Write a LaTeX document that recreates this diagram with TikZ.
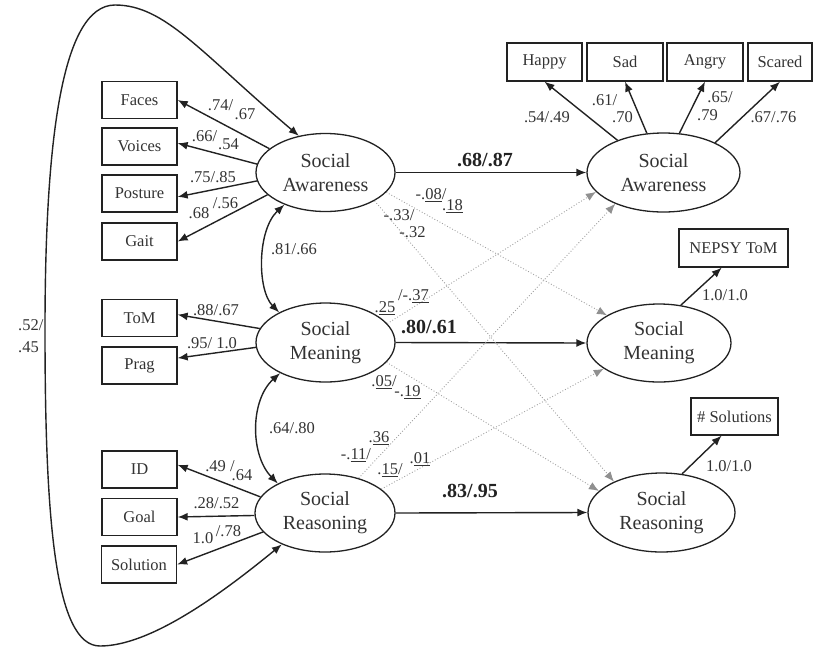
\documentclass[tikz,border=0pt]{standalone}
\usepackage{fontspec}
\setmainfont{Liberation Serif}
\usetikzlibrary{arrows.meta,shapes.geometric,calc}
\definecolor{ink}{HTML}{222222}
\definecolor{txt}{HTML}{333333}
\definecolor{dotc}{HTML}{A0A0A0}
\definecolor{dottip}{HTML}{909090}
\begin{document}
\begin{tikzpicture}[x=1pt,y=-1pt,
  box/.style={draw=ink, line width=1.3pt, minimum width=75pt, minimum height=37pt, inner sep=0pt, font=\fontsize{16.5}{18}\selectfont, text=txt},
  lat/.style={draw=ink, ellipse, line width=1.3pt, inner sep=0pt, align=center, font=\fontsize{20}{24}\selectfont, text=txt},
  lbl/.style={font=\fontsize{16.5}{18}\selectfont, text=txt, inner sep=0pt},
  blbl/.style={font=\bfseries\fontsize{20}{22}\selectfont, text=ink, inner sep=0pt},
  arr/.style={draw=ink, line width=1.4pt, -{Latex[length=10pt,width=8pt]}},
  darr/.style={draw=ink, line width=1.4pt, {Latex[length=10pt,width=8pt]}-{Latex[length=10pt,width=8pt]}},
  dotarr/.style={draw=dotc, line width=0.9pt, dotted, -{Latex[length=10pt,width=8pt,fill=dottip,color=dottip]}}
]
\useasboundingbox (0,0) rectangle (814,649);
% left indicator boxes
\node[box] (Faces) at (139.5,100) {Faces};
\node[box] (Voices) at (139.5,146.5) {Voices};
\node[box] (Posture) at (139.5,193.5) {Posture};
\node[box] (Gait) at (139.5,241.5) {Gait};
\node[box] (ToM) at (139.5,318) {ToM};
\node[box] (Prag) at (139.5,365.5) {Prag};
\node[box] (ID) at (139.5,469.5) {ID};
\node[box] (Goal) at (139.5,517) {Goal};
\node[box] (Solution) at (139,564.5) {Solution};
% top right boxes
\node[box, minimum height=38pt] (Happy) at (544.5,62) {Happy};
\node[box, minimum height=38pt, minimum width=76pt] (Sad) at (625,62) {Sad};
\node[box, minimum height=38pt, minimum width=76pt] (Angry) at (705,62) {Angry};
\node[box, minimum height=38pt, minimum width=64pt] (Scared) at (780,62) {Scared};
\node[box, minimum height=38pt, minimum width=109pt] (NEPSY) at (733.5,248) {NEPSY ToM};
\node[box, minimum width=87pt] (Sols) at (734.5,416.5) {\# Solutions};
% latent ellipses
\node[lat, minimum width=139pt, minimum height=78pt] (SAL) at (325.5,172.5) {Social\\Awareness};
\node[lat, minimum width=139pt, minimum height=79pt] (SML) at (325.5,342.5) {Social\\Meaning};
\node[lat, minimum width=140pt, minimum height=78pt] (SRL) at (325,513) {Social\\Reasoning};
\node[lat, minimum width=153pt, minimum height=79pt] (SAR) at (663.5,172.5) {Social\\Awareness};
\node[lat, minimum width=144pt, minimum height=78pt] (SMR) at (659,343) {Social\\Meaning};
\node[lat, minimum width=147pt, minimum height=79pt] (SRR) at (661.5,512.5) {Social\\Reasoning};

% big covariance loop
\path[darr] (SAL.126) .. controls (200,52) and (165,5) .. (115,5)
  .. controls (60,5) and (45,150) .. (45,330)
  .. controls (45,520) and (55,646) .. (100,646)
  .. controls (150,646) and (220,595) .. (SRL.216);
\node[lbl, anchor=west] (l52) at (18,325) {.52/};
\node[lbl, anchor=west] (l45) at (18,347) {.45};

% correlations between left latents
\path[darr] (SAL.218) .. controls (257,230) and (257,290) .. (SML.147);
\path[darr] (SML.214) .. controls (250,400) and (250,455) .. (SRL.148);
\node[lbl] (c1) at (294,249) {.81/.66};
\node[lbl] (c2) at (292,428) {.64/.80};

% loadings left
\path[arr] (SAL.157) -- (Faces.east);
\path[arr] (SAL.173) -- (Voices.5);
\path[arr] (SAL.187) -- (Posture.-5);
\path[arr] (SAL.201) -- (Gait.east);
\path[arr] (SML.168) -- (ToM.5);
\path[arr] (SML.184) -- (Prag.11);
\path[arr] (SRL.166) -- (ID.7);
\path[arr] (SRL.182) -- (Goal.east);
\path[arr] (SRL.197) -- (Solution.east);

\node[lbl] (a1) at (220.5,105) {.74/};
\node[lbl] (a2) at (245,114) {.67};
\node[lbl] (a3) at (204.5,136) {.66/};
\node[lbl] (a4) at (228.5,144) {.54};
\node[lbl] (a5) at (213,177) {.75/.85};
\node[lbl] (a6) at (199,213) {.68};
\node[lbl] (a7) at (225.5,203) {/.56};
\node[lbl] (m1) at (216,310) {.88/.67};
\node[lbl] (m2) at (212,343) {.95/ 1.0};
\node[lbl] (r1) at (220,466) {.49 /};
\node[lbl] (r2) at (242,475) {.64};
\node[lbl] (r3) at (216.5,503) {.28/.52};
\node[lbl] (r4) at (203,538) {1.0};
\node[lbl] (r5) at (228.5,531) {/.78};

% main structural paths
\path[arr] (SAL.east) -- (SAR.west);
\path[arr] (SML.east) -- (SMR.west);
\path[arr] (SRL.east) -- (SRR.west);
\node[blbl] (b1) at (485,160) {.68/.87};
\node[blbl] (b2) at (429,327) {.80/.61};
\node[blbl] (b3) at (470,491) {.83/.95};

% cross-lagged dotted paths
\path[dotarr] (SAL.-18) -- (SMR.152);
\path[dotarr] (SAL.-30) -- (SRR.147);
\path[dotarr] (SML.17) -- (SAR.196);
\path[dotarr] (SRL.46) -- (SAR.213);
\path[dotarr] (SML.-18) -- (SRR.161);
\path[dotarr] (SRL.23) -- (SMR.205);

\node[lbl] (d1) at (431,195) {-.\underline{08}/};
\node[lbl] (d2) at (452.5,206) {.\underline{18}};
\node[lbl] (d3) at (399,215) {-.33/};
\node[lbl] (d4) at (412.5,232) {-.32};
\node[lbl] (d5) at (385,308) {.\underline{25}};
\node[lbl] (d6) at (413.5,296) {/-.\underline{37}};
\node[lbl] (d7) at (384,382) {.\underline{05}/};
\node[lbl] (d8) at (407.5,392) {-.\underline{19}};
\node[lbl] (d9) at (356,455) {-.\underline{11}/};
\node[lbl] (d10) at (379,438) {.\underline{36}};
\node[lbl] (d11) at (390,470) {.\underline{15}/};
\node[lbl] (d12) at (420,459) {.\underline{01}};

% right loadings
\path[arr] (SAR.145) -- (Happy.south);
\path[arr] (SAR.113) -- (Sad.south);
\path[arr] (SAR.68) -- (Angry.south);
\path[arr] (SAR.30) -- (Scared.south);
\path[arr] (SMR.60) -- (NEPSY.239);
\path[arr] (SRR.62) -- (Sols.236);

\node[lbl] (e1) at (547,117) {.54/.49};
\node[lbl] (e2) at (604.5,100) {.61/};
\node[lbl] (e3) at (622.5,117) {.70};
\node[lbl] (e4) at (720,97) {.65/};
\node[lbl] (e5) at (707.5,115) {.79};
\node[lbl] (e6) at (773.5,117) {.67/.76};
\node[lbl] (e7) at (725,295) {1.0/1.0};
\node[lbl] (e8) at (729,466) {1.0/1.0};
\end{tikzpicture}
\end{document}
